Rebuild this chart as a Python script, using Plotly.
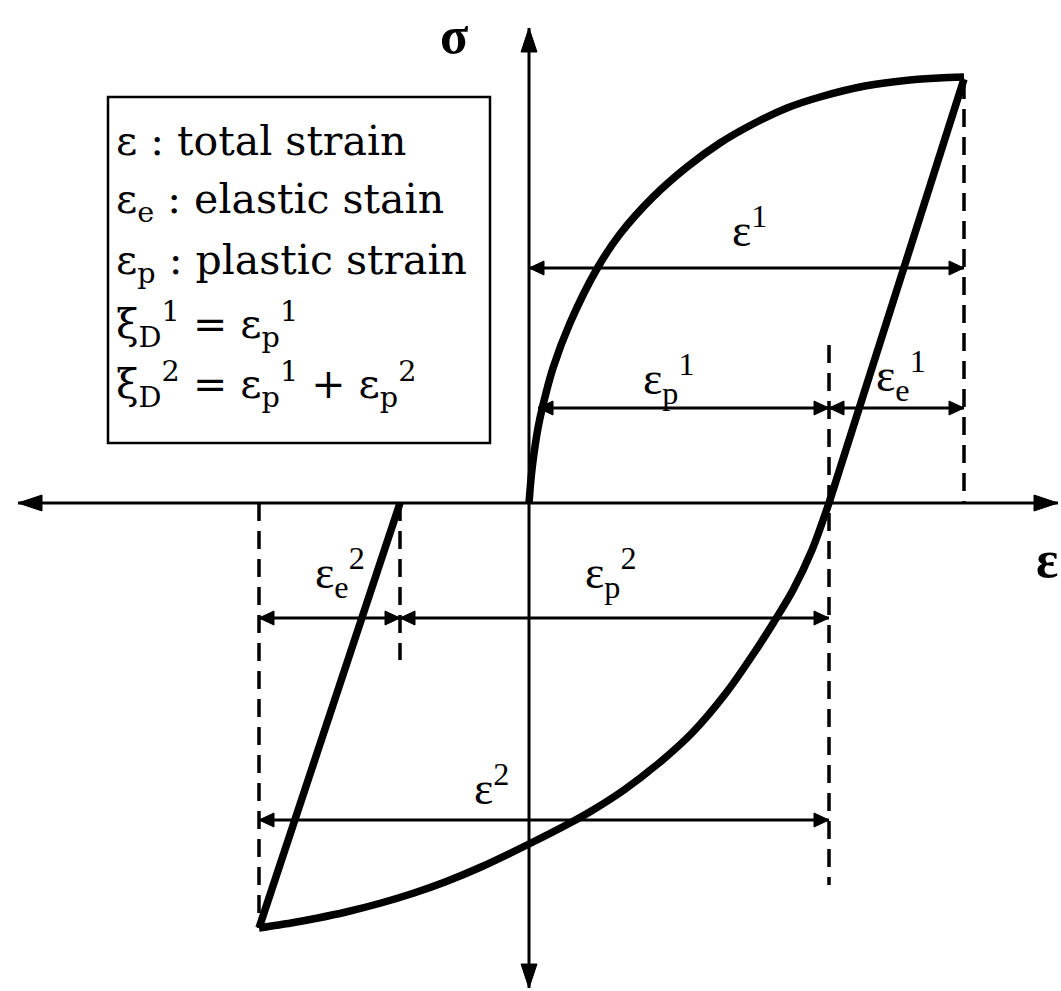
import plotly.graph_objects as go

# Hysteresis loop (strain, stress) in drawing units; origin at the axes crossing
load_eps = [0.00, 0.02, 0.04, 0.09, 0.14, 0.24, 0.41, 0.69, 0.91, 1.24, 1.58, 1.91, 2.24, 2.58, 2.91, 3.36, 3.81, 4.10, 4.35]
load_sig = [0.00, 0.24, 0.42, 0.75, 0.98, 1.35, 1.80, 2.36, 2.69, 3.06, 3.36, 3.60, 3.79, 3.95, 4.06, 4.17, 4.23, 4.25, 4.26]
unload_eps = [4.35, 3.00]
unload_sig = [4.24, 0.00]
reverse_eps = [3.00, 2.83, 2.64, 2.48, 2.27, 1.97, 1.63, 1.30, 0.95, 0.64, 0.41, 0.02,
               -0.48, -0.84, -1.15, -1.48, -1.83, -2.11, -2.38, -2.70]
reverse_sig = [0.00, -0.47, -0.87, -1.14, -1.47, -1.90, -2.30, -2.60, -2.87, -3.07, -3.20, -3.40,
               -3.64, -3.79, -3.90, -4.00, -4.09, -4.15, -4.20, -4.25]
reload_eps = [-2.70, -1.29]
reload_sig = [-4.25, 0.00]

# Dimension lines: label, start, end, level and label position
dim_labels = ["ε<sup>1</sup>", "ε<sub>p</sub><sup>1</sup>", "ε<sub>e</sub><sup>1</sup>",
              "ε<sub>e</sub><sup>2</sup>", "ε<sub>p</sub><sup>2</sup>", "ε<sup>2</sup>"]
dim_start = [0.00, 0.09, 3.00, -2.70, -1.29, -2.70]
dim_end = [4.35, 3.00, 4.35, -1.29, 3.00, 3.00]
dim_level = [2.35, 0.95, 0.95, -1.15, -1.15, -3.17]
label_x = [2.20, 1.40, 3.72, -1.89, 0.82, -0.38]
label_y = [2.76, 1.25, 1.28, -0.69, -0.69, -2.82]

# Dashed guide lines: x, top and bottom
guide_x = [4.35, 3.00, -2.70, -1.29]
guide_top = [4.22, 1.58, 0.00, 0.00]
guide_bot = [0.00, -3.82, -4.25, -1.57]

legend_lines = [
    "ε : total strain",
    "ε<sub>e</sub> : elastic stain",
    "ε<sub>p</sub> : plastic strain",
    "ξ<sub>D</sub><sup>1</sup> = ε<sub>p</sub><sup>1</sup>",
    "ξ<sub>D</sub><sup>2</sup> = ε<sub>p</sub><sup>1</sup> + ε<sub>p</sub><sup>2</sup>",
]

W, H = 1061, 991
X0, Y0 = 529, 503          # pixel position of the origin
S = 100.0                  # pixels per unit
xr = [-X0 / S, (W - X0) / S]
yr = [-(H - Y0) / S, Y0 / S]

BLACK = "black"
SERIF = "Liberation Serif, Times New Roman, serif"
WIDE_SERIF = "DejaVu Serif, serif"

fig = go.Figure()


def line(xs, ys, width, dash=None, shape="linear"):
    fig.add_trace(go.Scatter(x=xs, y=ys, mode="lines", hoverinfo="skip",
                             line=dict(color=BLACK, width=width, dash=dash, shape=shape,
                                       smoothing=0.8 if shape == "spline" else None)))


def head(tx, ty, dx, dy, length, half):
    # filled triangle with its tip at (tx, ty) pointing along (dx, dy); sizes in pixels
    n = (dx * dx + dy * dy) ** 0.5
    ux, uy = dx / n, dy / n
    bx, by = tx - ux * length / S, ty - uy * length / S
    px, py = -uy * half / S, ux * half / S
    fig.add_trace(go.Scatter(x=[tx, bx + px, bx - px, tx], y=[ty, by + py, by - py, ty],
                             mode="lines", fill="toself", fillcolor=BLACK,
                             line=dict(color=BLACK, width=1), hoverinfo="skip"))


# coordinate axes with arrowheads
ax_left, ax_right = -5.11, 5.29
ay_top, ay_bot = 4.75, -4.85
line([ax_left, ax_right], [0, 0], 3)
line([0, 0], [ay_bot, ay_top], 3)
head(ax_left, 0, -1, 0, 24, 8)
head(ax_right, 0, 1, 0, 24, 8)
head(0, ay_top, 0, 1, 24, 8)
head(0, ay_bot, 0, -1, 24, 8)

# dashed guides
for gx, gt, gb in zip(guide_x, guide_top, guide_bot):
    line([gx, gx], [gt, gb], 3.5, dash="18px,10px")

# dimension arrows
for a, b, lv in zip(dim_start, dim_end, dim_level):
    line([a, b], [lv, lv], 3)
    head(a, lv, -1, 0, 15, 7)
    head(b, lv, 1, 0, 15, 7)

# stress-strain loop
line(load_eps, load_sig, 7.5, shape="spline")
line(unload_eps, unload_sig, 7.5)
line(reverse_eps, reverse_sig, 7.5, shape="spline")
line(reload_eps, reload_sig, 7.5)

annotations = []
for t, lx, ly in zip(dim_labels, label_x, label_y):
    annotations.append(dict(x=lx, y=ly, text=t, showarrow=False, xanchor="center", yanchor="middle",
                            font=dict(family=SERIF, size=46, color=BLACK)))

annotations.append(dict(x=-0.75, y=4.68, text="<b>σ</b>", showarrow=False,
                        font=dict(family=SERIF, size=52, color=BLACK)))
annotations.append(dict(x=5.18, y=-0.56, text="<b>ε</b>", showarrow=False,
                        font=dict(family=SERIF, size=52, color=BLACK)))

# legend box
box_l, box_r, box_t, box_b = (108 - X0) / S, (490 - X0) / S, (Y0 - 97) / S, (Y0 - 443) / S
shapes = [dict(type="rect", xref="x", yref="y", x0=box_l, x1=box_r, y0=box_b, y1=box_t,
               line=dict(color=BLACK, width=2.5), fillcolor="white", layer="below")]
legend_y = [3.62, 3.01, 2.40, 1.79, 1.19]
for t, ly in zip(legend_lines, legend_y):
    annotations.append(dict(x=(114 - X0) / S, y=ly, text=t, showarrow=False, xanchor="left",
                            yanchor="middle", font=dict(family=WIDE_SERIF, size=41, color=BLACK)))

fig.update_layout(
    width=W, height=H, autosize=False,
    margin=dict(l=0, r=0, t=0, b=0),
    paper_bgcolor="white", plot_bgcolor="white",
    showlegend=False,
    xaxis=dict(range=xr, visible=False, fixedrange=True),
    yaxis=dict(range=yr, visible=False, fixedrange=True),
    annotations=annotations, shapes=shapes,
)

fig.write_html("out.html")
